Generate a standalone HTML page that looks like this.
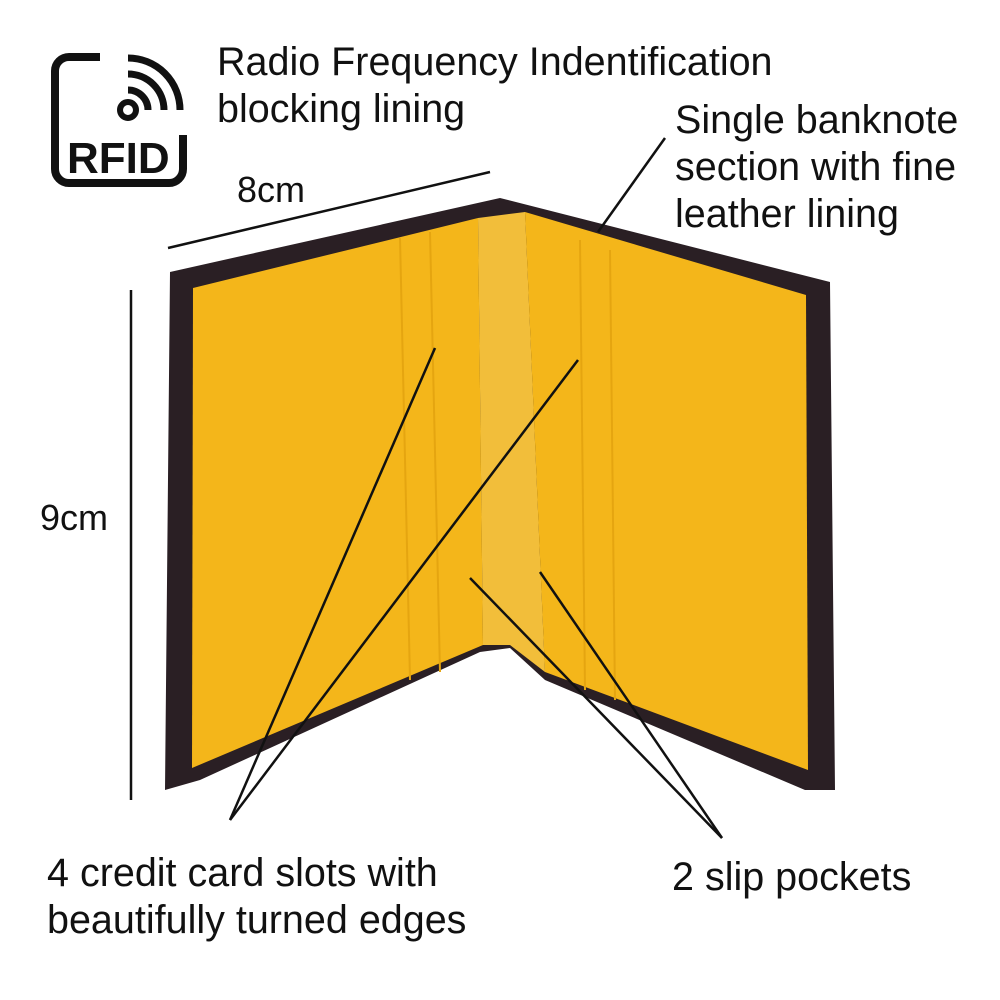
<!DOCTYPE html>
<html><head><meta charset="utf-8"><style>
html,body{margin:0;padding:0;background:#fff;}
svg{display:block;}
text{font-family:"Liberation Sans",sans-serif;fill:#111;}
</style></head><body>
<svg width="1000" height="1000" viewBox="0 0 1000 1000">
<rect width="1000" height="1000" fill="#fff"/>
<!-- RFID icon -->
<rect x="55" y="57" width="128" height="126" rx="14" fill="none" stroke="#111" stroke-width="8"/>
<rect x="100" y="50" width="90" height="55" fill="#fff"/>
<rect x="150" y="90" width="40" height="45" fill="#fff"/>
<circle cx="128" cy="110" r="8" fill="none" stroke="#111" stroke-width="6"/>
<path d="M128 90 A20 20 0 0 1 148 110" fill="none" stroke="#111" stroke-width="7"/>
<path d="M128 74 A36 36 0 0 1 164 110" fill="none" stroke="#111" stroke-width="7"/>
<path d="M128 58 A52 52 0 0 1 180 110" fill="none" stroke="#111" stroke-width="7"/>
<text x="67" y="173" font-size="44" font-weight="bold">RFID</text>
<!-- texts -->
<text x="217" y="75" font-size="39.5">Radio Frequency Indentification</text>
<text x="217" y="122" font-size="39.5">blocking lining</text>
<text x="675" y="133" font-size="39.5">Single banknote</text>
<text x="675" y="180" font-size="39.5">section with fine</text>
<text x="675" y="227" font-size="39.5">leather lining</text>
<text x="237" y="202" font-size="36">8cm</text>
<text x="40" y="530" font-size="36">9cm</text>
<text x="47" y="886" font-size="39.5">4 credit card slots with</text>
<text x="47" y="933" font-size="39.5">beautifully turned edges</text>
<text x="672" y="890" font-size="39.5">2 slip pockets</text>
<!-- dimension lines -->
<line x1="168" y1="248" x2="490" y2="172" stroke="#111" stroke-width="2.5"/>
<line x1="131" y1="290" x2="131" y2="800" stroke="#111" stroke-width="2.5"/>
<!-- wallet -->
<polygon points="170,272 500,198 830,282 835,790 805,790 545,680 510,648 480,652 200,780 165,790" fill="#2a1f24"/>
<polygon points="193,288 478,218 483,645 192,768" fill="#f4b61a"/>
<polygon points="478,218 525,212 545,672 510,645 483,645" fill="#f2be3a"/>
<polygon points="525,212 806,295 808,770 545,672" fill="#f4b61a"/>
<line x1="400" y1="238" x2="410" y2="680" stroke="#e5a510" stroke-width="2"/>
<line x1="430" y1="232" x2="440" y2="672" stroke="#e5a510" stroke-width="2"/>
<line x1="580" y1="240" x2="585" y2="690" stroke="#e5a510" stroke-width="2"/>
<line x1="610" y1="250" x2="615" y2="700" stroke="#e5a510" stroke-width="2"/>
<!-- callout lines -->
<g stroke="#111" stroke-width="2.5">
<line x1="230" y1="820" x2="435" y2="348"/>
<line x1="230" y1="820" x2="578" y2="360"/>
<line x1="722" y1="838" x2="470" y2="578"/>
<line x1="722" y1="838" x2="540" y2="572"/>
<line x1="598" y1="232" x2="665" y2="138"/>
</g>
</svg>
</body></html>
